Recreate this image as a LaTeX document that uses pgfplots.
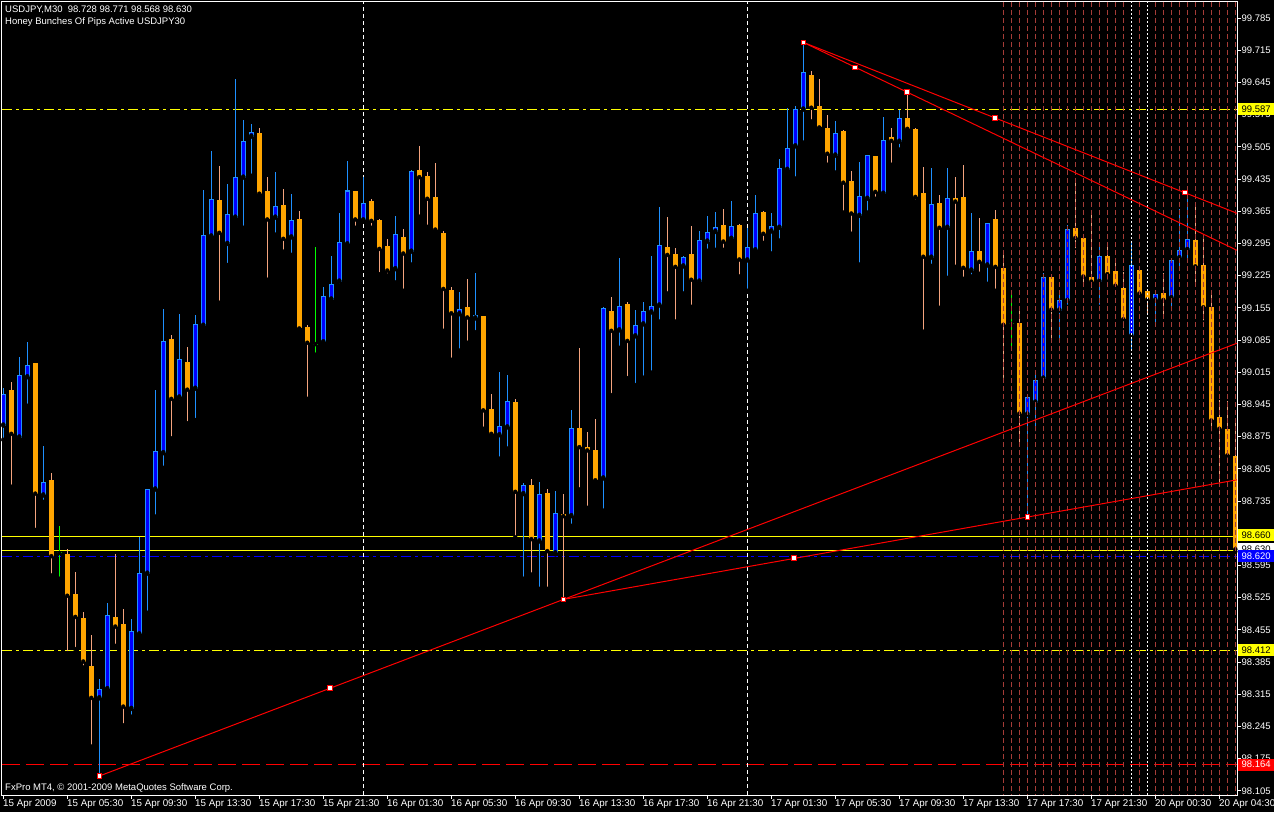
\documentclass[border=0pt]{standalone}
\usepackage{pgfplots}
\pgfplotsset{compat=1.18}
\usepackage{pgfplotstable}
\usepackage{fontspec}
\setmainfont{Liberation Sans}
\newcommand\mtfont{\fontsize{9.5}{11}\selectfont}
\newcommand\dtfont{\fontsize{9.8}{11}\selectfont}
\definecolor{bullwick}{RGB}{30,144,255}
\definecolor{bullbody}{RGB}{0,0,255}
\definecolor{bearbody}{RGB}{255,165,0}
\definecolor{bearwick}{RGB}{244,164,126}
\definecolor{mylime}{RGB}{0,255,0}
\definecolor{sepcol}{RGB}{165,60,55}
\definecolor{mtyellow}{RGB}{255,255,0}
\definecolor{mtblue}{RGB}{0,0,255}
\definecolor{mtred}{RGB}{255,0,0}

\pgfplotstableread{
i o h l c
0 98.899 98.981 98.868 98.967
2 98.873 99.049 98.870 99.009
3 99.004 99.081 98.942 99.030
5 98.747 98.855 98.733 98.776
12 98.306 98.348 98.137 98.326
13 98.326 98.513 98.324 98.487
16 98.283 98.479 98.266 98.452
17 98.445 98.657 98.444 98.578
18 98.577 98.761 98.492 98.760
19 98.760 98.976 98.701 98.843
20 98.839 99.152 98.807 99.083
22 98.960 99.141 98.951 99.044
24 98.979 99.139 98.911 99.119
25 99.116 99.411 99.114 99.313
26 99.310 99.496 99.306 99.391
28 99.294 99.424 99.248 99.358
29 99.351 99.652 99.350 99.439
30 99.438 99.563 99.329 99.517
31 99.527 99.554 99.442 99.537
34 99.351 99.450 99.314 99.376
36 99.308 99.402 99.270 99.345
40 99.080 99.200 99.078 99.180
41 99.173 99.268 99.172 99.206
42 99.212 99.361 99.203 99.297
43 99.293 99.474 99.292 99.410
45 99.345 99.440 99.344 99.382
49 99.239 99.354 99.210 99.315
51 99.277 99.455 99.249 99.452
57 99.141 99.189 99.062 99.152
59 99.132 99.231 99.102 99.139
62 98.878 99.015 98.827 98.897
63 98.895 99.009 98.849 98.952
65 98.750 98.774 98.566 98.769
67 98.647 98.776 98.544 98.750
69 98.621 98.757 98.619 98.708
71 98.702 98.933 98.681 98.893
75 98.784 99.156 98.714 99.154
77 99.106 99.263 99.068 99.158
79 99.093 99.150 98.987 99.117
80 99.119 99.168 99.003 99.147
81 99.145 99.268 99.014 99.158
82 99.160 99.374 99.125 99.291
85 99.245 99.267 99.186 99.265
87 99.212 99.322 99.205 99.302
88 99.299 99.354 99.279 99.319
89 99.320 99.363 99.281 99.330
91 99.305 99.387 99.302 99.332
93 99.258 99.328 99.192 99.287
94 99.280 99.400 99.278 99.361
96 99.321 99.361 99.273 99.332
97 99.329 99.478 99.301 99.458
98 99.455 99.589 99.453 99.502
99 99.506 99.593 99.436 99.588
100 99.586 99.732 99.514 99.667
104 99.486 99.561 99.449 99.534
107 99.355 99.472 99.249 99.397
108 99.392 99.488 99.362 99.487
110 99.403 99.570 99.396 99.519
112 99.516 99.585 99.499 99.567
116 99.264 99.458 99.246 99.380
118 99.329 99.459 99.220 99.393
121 99.236 99.361 99.223 99.278
123 99.247 99.340 99.207 99.339
128 98.923 98.967 98.700 98.960
129 98.949 99.013 98.882 98.997
130 99.001 99.230 99.000 99.223
132 99.149 99.187 99.074 99.171
133 99.170 99.335 99.157 99.326
137 99.212 99.292 99.157 99.268
141 99.093 99.295 99.060 99.247
144 99.171 99.185 99.115 99.184
146 99.176 99.259 99.143 99.258
147 99.263 99.369 99.233 99.280
148 99.281 99.402 99.255 99.304
}\bull

\pgfplotstableread{
i o h l c
1 98.976 98.993 98.766 98.881
4 99.034 99.036 98.672 98.751
6 98.780 98.796 98.573 98.615
8 98.619 98.631 98.404 98.529
9 98.533 98.581 98.413 98.483
10 98.481 98.494 98.373 98.386
11 98.376 98.444 98.201 98.307
14 98.483 98.620 98.420 98.462
15 98.468 98.501 98.247 98.288
21 99.087 99.096 98.871 98.957
23 99.037 99.070 98.904 98.977
27 99.389 99.463 99.166 99.318
32 99.535 99.546 99.396 99.403
33 99.408 99.439 99.216 99.347
35 99.378 99.413 99.277 99.305
37 99.347 99.365 99.105 99.110
38 99.113 99.118 98.957 99.079
44 99.408 99.409 99.329 99.347
46 99.387 99.391 99.329 99.344
47 99.346 99.347 99.228 99.283
48 99.289 99.305 99.225 99.236
50 99.309 99.326 99.192 99.273
52 99.454 99.507 99.353 99.439
53 99.441 99.450 99.331 99.392
54 99.395 99.470 99.324 99.325
55 99.317 99.323 99.105 99.196
56 99.193 99.200 99.042 99.143
58 99.156 99.218 99.079 99.134
60 99.137 99.138 98.892 98.932
61 98.934 98.967 98.880 98.881
64 98.950 98.957 98.656 98.755
66 98.769 98.783 98.575 98.652
68 98.752 98.761 98.544 98.626
70 98.706 98.750 98.521 98.702
72 98.893 99.068 98.760 98.852
73 98.852 98.884 98.720 98.845
74 98.845 98.913 98.779 98.780
76 99.147 99.178 98.965 99.105
78 99.163 99.167 99.002 99.083
83 99.287 99.352 99.186 99.270
84 99.273 99.284 99.125 99.244
86 99.272 99.333 99.157 99.216
90 99.336 99.370 99.281 99.299
92 99.336 99.337 99.223 99.260
95 99.363 99.365 99.296 99.316
101 99.660 99.670 99.560 99.590
102 99.593 99.652 99.544 99.547
103 99.545 99.574 99.466 99.490
105 99.539 99.542 99.362 99.427
106 99.430 99.452 99.316 99.360
109 99.484 99.485 99.392 99.407
111 99.526 99.546 99.466 99.518
113 99.567 99.623 99.543 99.544
114 99.544 99.545 99.386 99.396
115 99.404 99.461 99.103 99.266
117 99.382 99.400 99.155 99.329
119 99.393 99.439 99.244 99.386
120 99.395 99.465 99.218 99.242
122 99.278 99.350 99.229 99.255
124 99.347 99.367 99.192 99.244
125 99.241 99.278 98.998 99.118
127 99.123 99.150 98.850 98.925
131 99.223 99.224 99.076 99.151
134 99.328 99.428 99.280 99.307
135 99.306 99.307 99.201 99.223
136 99.221 99.364 99.194 99.212
138 99.268 99.295 99.212 99.228
139 99.234 99.259 99.202 99.203
140 99.197 99.233 99.107 99.130
142 99.237 99.246 99.185 99.186
143 99.191 99.191 99.136 99.173
145 99.187 99.230 99.134 99.172
149 99.302 99.378 99.205 99.245
150 99.247 99.313 99.123 99.156
151 99.156 99.194 98.882 98.910
152 98.917 98.955 98.770 98.892
153 98.891 98.953 98.824 98.834
154 98.833 98.911 98.625 98.630
}\bear

\pgfplotstableread{
i o h l c
7 98.622 98.681 98.566 98.622
39 99.076 99.287 99.053 99.076
126 99.120 99.194 99.058 99.120
}\doji

\begin{document}
\begin{tikzpicture}[x=1pt,y=1pt]
\useasboundingbox (0,0) rectangle (1274,812);
\fill[black] (0,0) rectangle (1274,812);
\begin{axis}[
  at={(2pt,17pt)}, anchor=south west,
  scale only axis, width=1235pt, height=793pt,
  xmin=-0.16, xmax=154.21, ymin=98.0958, ymax=99.8198,
  clip mode=individual,
  unbounded coords=jump,
  axis line style={white, line width=1pt},
  tick align=outside, major tick length=3.5pt,
  tick style={white, line width=0.8pt},
  xtick pos=bottom, ytick pos=right,
  scaled y ticks=false,
  xtick={0,8,16,24,32,40,48,56,64,72,80,88,96,104,112,120,128,136,144,152},
  xticklabels={15 Apr 2009,15 Apr 05:30,15 Apr 09:30,15 Apr 13:30,15 Apr 17:30,15 Apr 21:30,16 Apr 01:30,16 Apr 05:30,16 Apr 09:30,16 Apr 13:30,16 Apr 17:30,16 Apr 21:30,17 Apr 01:30,17 Apr 05:30,17 Apr 09:30,17 Apr 13:30,17 Apr 17:30,17 Apr 21:30,20 Apr 00:30,20 Apr 04:30},
  xticklabel style={anchor=north west, font=\dtfont, text=white, inner sep=0pt, xshift=-0.3pt, yshift=-1pt},
  ytick={98.105,98.175,98.245,98.315,98.385,98.455,98.525,98.595,98.665,98.735,98.805,98.875,98.945,99.015,99.085,99.155,99.225,99.295,99.365,99.435,99.505,99.575,99.645,99.715,99.785},
  yticklabel style={anchor=west, font=\mtfont, text=white, inner sep=0pt, xshift=1pt,
    /pgf/number format/.cd, fixed, fixed zerofill, precision=3, assume math mode=true},
]
% horizontal lines
\addplot[mtyellow, line width=1pt, dash pattern=on 10pt off 4pt on 3pt off 4pt, forget plot] coordinates {(-0.16,99.587) (154.21,99.587)};
\addplot[mtyellow, line width=1pt, forget plot] coordinates {(-0.16,98.657) (154.21,98.657)};
\addplot[mtyellow, line width=1pt, forget plot] coordinates {(-0.16,98.627) (154.21,98.627)};
\addplot[mtblue, line width=1pt, dash pattern=on 10pt off 4pt on 3pt off 4pt, forget plot] coordinates {(-0.16,98.615) (154.21,98.615)};
\addplot[mtyellow, line width=1pt, dash pattern=on 10pt off 4pt on 3pt off 4pt, forget plot] coordinates {(-0.16,98.411) (154.21,98.411)};
\addplot[mtred, line width=1pt, dash pattern=on 18pt off 6pt, forget plot] coordinates {(-0.16,98.162) (154.21,98.162)};
% white period separators
\addplot[white, line width=1pt, dash pattern=on 4pt off 3pt, forget plot] coordinates {(45,98.0958) (45,99.8198)};
\addplot[white, line width=1pt, dash pattern=on 4pt off 3pt, forget plot] coordinates {(93,98.0958) (93,99.8198)};
% wicks
\addplot[only marks, mark=none, forget plot, error bars/.cd, y dir=plus, y explicit, error mark=none, error bar style={line width=1pt, color=bullwick}]
  table[x=i, y=l, y error plus expr=\thisrow{h}-\thisrow{l}] {\bull};
\addplot[only marks, mark=none, forget plot, error bars/.cd, y dir=plus, y explicit, error mark=none, error bar style={line width=1pt, color=bearwick}]
  table[x=i, y=l, y error plus expr=\thisrow{h}-\thisrow{l}] {\bear};
\addplot[only marks, mark=none, forget plot, error bars/.cd, y dir=plus, y explicit, error mark=none, error bar style={line width=1pt, color=mylime}]
  table[x=i, y=l, y error plus expr=\thisrow{h}-\thisrow{l}] {\doji};
\addplot[only marks, mark=none, forget plot, error bars/.cd, x dir=both, x fixed=0.3, error mark=none, error bar style={line width=1pt, color=mylime}]
  table[x=i, y=o] {\doji};
% bodies
\addplot[only marks, mark=none, forget plot, error bars/.cd, y dir=plus, y explicit, error mark=none, error bar style={line width=5pt, color=bullwick}]
  table[x=i, y=o, y error plus expr=\thisrow{c}-\thisrow{o}] {\bull};
\addplot[only marks, mark=none, forget plot, error bars/.cd, y dir=plus, y explicit, error mark=none, error bar style={line width=3pt, color=bullbody}]
  table[x=i, y expr=\thisrow{o}+0.0022, y error plus expr=\thisrow{c}-\thisrow{o}-0.0044] {\bull};
\addplot[only marks, mark=none, forget plot, error bars/.cd, y dir=plus, y explicit, error mark=none, error bar style={line width=5pt, color=bearbody}]
  table[x=i, y=c, y error plus expr=\thisrow{o}-\thisrow{c}] {\bear};
% dashed separators in front
\addplot[sepcol, line width=1pt, dash pattern=on 5pt off 3pt, forget plot] coordinates {
(125,99.8198) (125,98.0958) (125,nan)
(126,99.8198) (126,98.0958) (126,nan)
(127,99.8198) (127,98.0958) (127,nan)
(128,99.8198) (128,98.0958) (128,nan)
(129,99.8198) (129,98.0958) (129,nan)
(130,99.8198) (130,98.0958) (130,nan)
(131,99.8198) (131,98.0958) (131,nan)
(132,99.8198) (132,98.0958) (132,nan)
(133,99.8198) (133,98.0958) (133,nan)
(134,99.8198) (134,98.0958) (134,nan)
(135,99.8198) (135,98.0958) (135,nan)
(136,99.8198) (136,98.0958) (136,nan)
(137,99.8198) (137,98.0958) (137,nan)
(138,99.8198) (138,98.0958) (138,nan)
(139,99.8198) (139,98.0958) (139,nan)
(140,99.8198) (140,98.0958) (140,nan)
(142,99.8198) (142,98.0958) (142,nan)
(144,99.8198) (144,98.0958) (144,nan)
(145,99.8198) (145,98.0958) (145,nan)
(146,99.8198) (146,98.0958) (146,nan)
(147,99.8198) (147,98.0958) (147,nan)
(148,99.8198) (148,98.0958) (148,nan)
(149,99.8198) (149,98.0958) (149,nan)
(150,99.8198) (150,98.0958) (150,nan)
(151,99.8198) (151,98.0958) (151,nan)
(152,99.8198) (152,98.0958) (152,nan)
(153,99.8198) (153,98.0958) (153,nan)
(154,99.8198) (154,98.0958)
};
\addplot[white, line width=1pt, dash pattern=on 2pt off 2pt, forget plot] coordinates {(141,98.0958) (141,99.8198)};
\addplot[white, line width=1pt, dash pattern=on 2pt off 2pt, forget plot] coordinates {(143,98.0958) (143,99.8198)};
% trend lines
\addplot[mtred, line width=1pt, forget plot] coordinates {(12,98.137) (154.21,99.078)};
\addplot[mtred, line width=1pt, forget plot] coordinates {(70,98.521) (154.21,98.781)};
\addplot[mtred, line width=1pt, forget plot] coordinates {(100,99.732) (154.21,99.3605)};
\addplot[mtred, line width=1pt, forget plot] coordinates {(100,99.732) (154.21,99.280)};
\addplot[only marks, mark=square*, mark size=2.2pt, mark options={fill=white, draw=mtred, line width=1pt}, forget plot] coordinates {
(12,98.137) (40.84,98.328) (70,98.521) (98.84,98.611) (128,98.700)
(100,99.732) (106.46,99.678) (112.96,99.624) (123.96,99.568) (147.71,99.405)};
% price labels
\node[fill=mtyellow, text=black, anchor=west, inner sep=0pt, minimum width=36pt, minimum height=12pt, font=\mtfont, xshift=1pt] at (axis cs:154.21,99.587) {99.587};
\node[fill=mtyellow, text=black, anchor=west, inner sep=0pt, minimum width=36pt, minimum height=12pt, font=\mtfont, xshift=1pt] at (axis cs:154.21,98.660) {98.660};
\node[fill=white, text=black, anchor=west, inner sep=0pt, minimum width=36pt, minimum height=12pt, font=\mtfont, xshift=1pt] at (axis cs:154.21,98.630) {98.630};
\node[fill=mtblue, text=white, anchor=west, inner sep=0pt, minimum width=36pt, minimum height=12pt, font=\mtfont, xshift=1pt] at (axis cs:154.21,98.615) {98.620};
\node[fill=mtyellow, text=black, anchor=west, inner sep=0pt, minimum width=36pt, minimum height=12pt, font=\mtfont, xshift=1pt] at (axis cs:154.21,98.411) {98.412};
\node[fill=mtred, text=white, anchor=west, inner sep=0pt, minimum width=36pt, minimum height=12pt, font=\mtfont, xshift=1pt] at (axis cs:154.21,98.162) {98.164};
\end{axis}
\node[anchor=base west, text=white, font=\mtfont, inner sep=0pt] at (5,799) {USDJPY,M30\ \ 98.728 98.771 98.568 98.630};
\node[anchor=base west, text=white, font=\mtfont, inner sep=0pt] at (5,787) {Honey Bunches Of Pips Active USDJPY30};
\node[anchor=base west, text=white, font=\mtfont, inner sep=0pt] at (5,22) {FxPro MT4, © 2001-2009 MetaQuotes Software Corp.};
\end{tikzpicture}
\end{document}
